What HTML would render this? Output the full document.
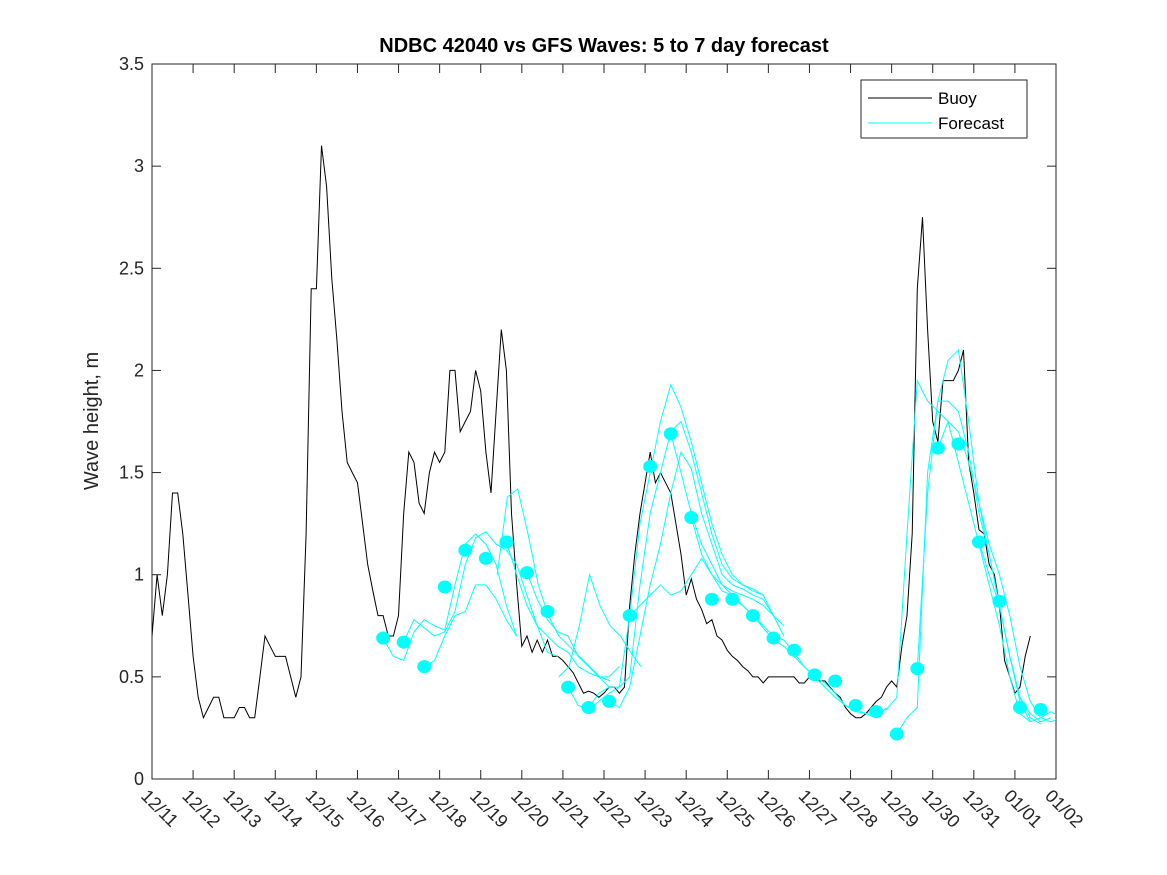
<!DOCTYPE html>
<html><head><meta charset="utf-8"><style>
html,body{margin:0;padding:0;background:#fff}
svg{display:block;font-family:"Liberation Sans",sans-serif}
</style></head><body>
<svg id="chart" width="1167" height="875" viewBox="0 0 1167 875" xmlns="http://www.w3.org/2000/svg">
<rect width="1167" height="875" fill="#fff"/>
<text x="604" y="52" text-anchor="middle" font-size="20" font-weight="bold" fill="#000">NDBC 42040 vs GFS Waves: 5 to 7 day forecast</text>
<text transform="translate(98,421) rotate(-90)" text-anchor="middle" font-size="20" fill="#262626">Wave height, m</text>
<defs><clipPath id="pc"><rect x="152" y="64" width="904" height="715"/></clipPath></defs>
<g id="axes"></g>
<g id="series" clip-path="url(#pc)"></g>
<g>
<rect x="861" y="80" width="166" height="58" fill="#fff" stroke="#262626" stroke-width="1"/>
<line x1="868" y1="98" x2="932" y2="98" stroke="#000" stroke-width="1"/>
<text x="938" y="104" font-size="17" fill="#000">Buoy</text>
<line x1="868" y1="123" x2="932" y2="123" stroke="#00ffff" stroke-width="1"/>
<text x="938" y="129" font-size="17" fill="#000">Forecast</text>
</g>
</svg>
<script>
const xTickLabels=["12/11","12/12","12/13","12/14","12/15","12/16","12/17","12/18","12/19","12/20","12/21","12/22","12/23","12/24","12/25","12/26","12/27","12/28","12/29","12/30","12/31","01/01","01/02"];
const yTicks=[0,0.5,1,1.5,2,2.5,3,3.5];
const buoyStep=0.125;
const buoyValues=[0.7,1.0,0.8,1.0,1.4,1.4,1.2,0.9,0.6,0.4,0.3,0.35,0.4,0.4,0.3,0.3,0.3,0.35,0.35,0.3,0.3,0.5,0.7,0.65,0.6,0.6,0.6,0.5,0.4,0.5,1.2,2.4,2.4,3.1,2.9,2.45,2.15,1.8,1.55,1.5,1.45,1.25,1.05,0.92,0.8,0.8,0.7,0.7,0.8,1.3,1.6,1.55,1.35,1.3,1.5,1.6,1.55,1.6,2.0,2.0,1.7,1.75,1.8,2.0,1.9,1.6,1.4,1.8,2.2,2.0,1.3,0.95,0.65,0.7,0.62,0.68,0.62,0.68,0.6,0.6,0.58,0.55,0.52,0.47,0.42,0.43,0.42,0.4,0.42,0.45,0.45,0.42,0.45,0.85,1.1,1.3,1.45,1.6,1.45,1.5,1.45,1.4,1.25,1.1,0.9,0.98,0.88,0.83,0.76,0.78,0.7,0.68,0.63,0.6,0.58,0.55,0.53,0.5,0.5,0.47,0.5,0.5,0.5,0.5,0.5,0.5,0.47,0.47,0.5,0.5,0.48,0.48,0.45,0.42,0.4,0.35,0.32,0.3,0.3,0.32,0.35,0.38,0.4,0.45,0.48,0.45,0.65,0.8,1.2,2.4,2.75,2.2,1.75,1.65,1.95,1.95,1.95,2.0,2.1,1.55,1.4,1.22,1.2,1.05,1.0,0.85,0.58,0.5,0.42,0.45,0.6,0.7];
const dotStart=5.625, dotStep=0.5;
const dotValues=[0.69,0.67,0.55,0.94,1.12,1.08,1.16,1.01,0.82,0.45,0.35,0.38,0.80,1.53,1.69,1.28,0.88,0.88,0.80,0.69,0.63,0.51,0.48,0.36,0.33,0.22,0.54,1.62,1.64,1.16,0.87,0.35,0.34];
const fcStep=0.25;
const fcStarts=[5.625,6.125,6.625,8.4,8.625,9.125,9.9,10.125,10.625,11.125,11.625,12.625,13.125,14.125,14.625,17.625,18.125,18.625,19.125,20.125];
const fc0=[0.69,0.6,0.58,0.72,0.78,0.75,0.73,0.95,1.15,1.2,1.15,1.05,0.85,0.7];
const fc1=[0.67,0.78,0.74,0.7,0.72,0.82,1.05,1.18,1.21,1.15,1.12,1.05,0.9,0.75,0.62,0.6];
const fc2=[0.55,0.58,0.7,0.8,0.82,0.95,0.95,0.88,0.78,0.7];
const fc3=[1.0,1.38,1.42,1.2,0.95,0.8,0.7,0.65,0.6,0.55,0.5,0.48];
const fc4=[1.16,1.0,0.85,0.75,0.7,0.65,0.62,0.55,0.52,0.5,0.45];
const fc5=[1.01,0.88,0.78,0.72,0.7,0.6,0.55,0.5,0.5,0.55];
const fc6=[0.5,0.55,0.75,1.0,0.85,0.75,0.7,0.62,0.55];
const fc7=[0.45,0.36,0.34,0.38,0.42,0.45,0.8,1.25,1.5,1.75,1.93,1.82,1.65,1.45,1.25,1.1,1.0,0.95,0.92,0.9];
const fc8=[0.35,0.42,0.45,0.45,0.5,0.95,1.3,1.5,1.7,1.75,1.6,1.4,1.2,1.05,0.98,0.95,0.93,0.9,0.8];
const fc9=[0.38,0.35,0.45,0.7,0.95,1.15,1.4,1.6,1.52,1.3,1.15,1.0,0.95,0.93,0.9,0.88,0.8,0.75];
const fc10=[0.8,0.85,0.9,0.95,0.9,0.92,1.0,1.08,1.0,0.92,0.9];
const fc11=[1.69,1.5,1.3,1.15,1.05,0.95,0.9,0.85,0.8,0.75];
const fc12=[1.28,1.1,1.0,0.95,0.92,0.9,0.88,0.85,0.8,0.7];
const fc13=[0.88,0.85,0.8,0.75,0.7,0.68,0.62,0.55,0.5,0.47,0.42,0.36,0.33,0.32,0.33];
const fc14=[0.8,0.74,0.68,0.65,0.6,0.55,0.5,0.45,0.4,0.36,0.34,0.32,0.3,0.35];
const fc15=[0.33,0.34,0.4,1.2,1.95,1.85,1.8,1.75,1.55,1.35,1.15,0.95,0.75,0.5,0.32,0.28];
const fc16=[0.22,0.3,0.35,1.5,1.85,1.85,1.8,1.6,1.3,1.1,0.85,0.6,0.4,0.3,0.27];
const fc17=[0.54,1.4,1.85,2.05,2.1,1.75,1.35,1.1,0.85,0.6,0.4,0.32,0.28,0.3];
const fc18=[1.62,1.75,1.7,1.55,1.35,1.15,1.0,0.8,0.55,0.38,0.3,0.28,0.3];
const fc19=[1.16,1.0,0.85,0.6,0.38,0.28,0.3,0.33,0.3];
const fcValues=[fc0,fc1,fc2,fc3,fc4,fc5,fc6,fc7,fc8,fc9,fc10,fc11,fc12,fc13,fc14,fc15,fc16,fc17,fc18,fc19];

const L=152,R=1056,T=64,B=779,NS="http://www.w3.org/2000/svg";
const xScale=d=>L+d*(R-L)/22;
const yScale=v=>B-v*(B-T)/3.5;
function mk(tag,parent,attrs){const e=document.createElementNS(NS,tag);for(const k in attrs)e.setAttribute(k,attrs[k]);parent.appendChild(e);return e;}
const axes=document.getElementById('axes'), ser=document.getElementById('series');
let r=mk('rect',axes,{x:L,y:T,width:R-L,height:B-T,fill:'none',stroke:'#262626','stroke-width':1});


yTicks.forEach(v=>{
  const y=yScale(v);
  let t=mk('line',axes,{x1:L,y1:y,x2:L+9,y2:y,stroke:'#262626'});
  
  
  mk('line',axes,{x1:R,y1:y,x2:R-9,y2:y,stroke:'#262626'});
  let tx=mk('text',axes,{x:L-8,y:y+6,'text-anchor':'end','font-size':18,fill:'#262626'});
  tx.textContent=String(v);
  
  
});
xTickLabels.forEach((lab,i)=>{
  const x=xScale(i);
  let t=mk('line',axes,{x1:x,y1:B,x2:x,y2:B-9,stroke:'#262626'});
  
  
  mk('line',axes,{x1:x,y1:T,x2:x,y2:T+9,stroke:'#262626'});
  let tx=mk('text',axes,{transform:`translate(${x-12},${B+18}) rotate(45)`,'font-size':18,fill:'#262626'});
  tx.textContent=lab;
  
  
});
let bp=buoyValues.map((v,i)=>xScale(i*buoyStep).toFixed(1)+','+yScale(v).toFixed(1)).join(' ');
let bl=mk('polyline',ser,{points:bp,fill:'none',stroke:'#000','stroke-width':1});


fcValues.forEach((arr,j)=>{
  const s=fcStarts[j];
  let p=arr.map((v,i)=>xScale(s+i*fcStep).toFixed(1)+','+yScale(v).toFixed(1)).join(' ');
  let l=mk('polyline',ser,{points:p,fill:'none',stroke:'#00ffff','stroke-width':1});
  
  
});
dotValues.forEach((v,i)=>{
  let c=mk('ellipse',ser,{cx:xScale(dotStart+i*dotStep),cy:yScale(v),rx:7,ry:6.5,fill:'#00ffff'});
  
  
});
</script>
</body></html>
